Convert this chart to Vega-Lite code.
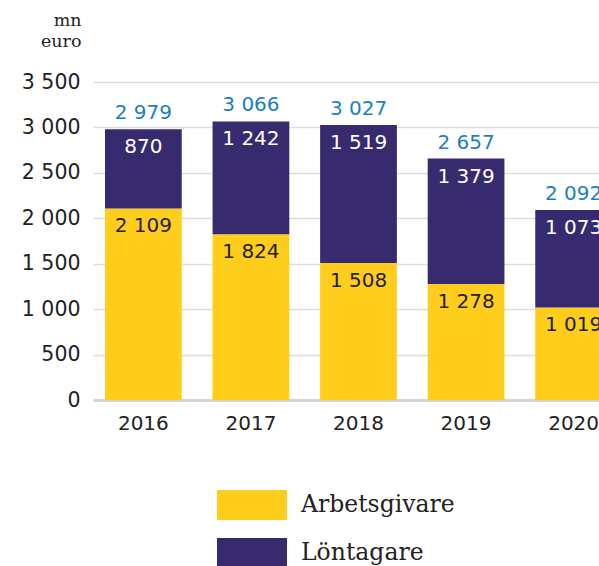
{
  "$schema": "https://vega.github.io/schema/vega-lite/v6.json",
  "width": 506,
  "height": 318,
  "autosize": {"type": "none"},
  "padding": {"left": 93, "top": 82, "right": 0, "bottom": 166},
  "config": {
    "locale": {"number": {"decimal": ",", "thousands": " ", "grouping": [3], "currency": ["", " €"]}},
    "view": {"stroke": null},
    "font": "DejaVu Sans"
  },
  "data": {
    "values": [
      {"year": "2016", "type": "Arbetsgivare", "value": 2109},
      {"year": "2016", "type": "Löntagare", "value": 870},
      {"year": "2017", "type": "Arbetsgivare", "value": 1824},
      {"year": "2017", "type": "Löntagare", "value": 1242},
      {"year": "2018", "type": "Arbetsgivare", "value": 1508},
      {"year": "2018", "type": "Löntagare", "value": 1519},
      {"year": "2019", "type": "Arbetsgivare", "value": 1278},
      {"year": "2019", "type": "Löntagare", "value": 1379},
      {"year": "2020", "type": "Arbetsgivare", "value": 1019},
      {"year": "2020", "type": "Löntagare", "value": 1073}
    ]
  },
  "encoding": {
    "x": {
      "field": "year",
      "type": "ordinal",
      "scale": {"range": [0, 531], "paddingInner": 0.2865, "paddingOuter": 0.1116},
      "axis": {
        "title": null,
        "labelAngle": 0,
        "ticks": false,
        "domain": true,
        "domainColor": "#d4d4d4",
        "domainWidth": 3,
        "labelPadding": 13,
        "labelFontSize": 20,
        "labelColor": "#222222",
        "grid": false
      }
    }
  },
  "layer": [
    {
      "mark": {"type": "bar"},
      "encoding": {
        "y": {
          "field": "value",
          "type": "quantitative",
          "stack": "zero",
          "scale": {"domain": [0, 3500], "nice": false},
          "axis": {
            "values": [0, 500, 1000, 1500, 2000, 2500, 3000, 3500],
            "format": ",d",
            "grid": true,
            "gridColor": "#dddddd",
            "gridWidth": 1.5,
            "domain": false,
            "ticks": false,
            "labelPadding": 13,
            "labelFontSize": 20.5,
            "labelColor": "#222222",
            "title": ["mn", "euro"],
            "titleAngle": 0,
            "titleAlign": "right",
            "titleBaseline": "alphabetic",
            "titleX": -12,
            "titleY": -57,
            "titleFont": "DejaVu Serif",
            "titleFontSize": 17.5,
            "titleFontWeight": "normal",
            "titleLineHeight": 21,
            "titleColor": "#222222"
          }
        },
        "order": {"field": "type", "type": "ordinal", "sort": "ascending"},
        "color": {
          "field": "type",
          "type": "nominal",
          "scale": {"domain": ["Arbetsgivare", "Löntagare"], "range": ["#ffcd1c", "#382a6f"]},
          "legend": {
            "title": null,
            "orient": "none",
            "direction": "vertical",
            "legendX": 144,
            "legendY": 408,
            "padding": 0,
            "symbolType": "M-2.333,-1H2.333V1H-2.333Z",
            "symbolSize": 900,
            "symbolStrokeWidth": 0,
            "symbolOpacity": 1,
            "labelOffset": 34,
            "rowPadding": 18,
            "labelFont": "DejaVu Serif",
            "labelFontSize": 23.5,
            "labelColor": "#222222"
          }
        }
      }
    },
    {
      "mark": {"type": "text", "baseline": "middle", "dy": 18, "fontSize": 20},
      "encoding": {
        "y": {"field": "value", "type": "quantitative", "stack": "zero"},
        "detail": {"field": "type"},
        "order": {"field": "type", "type": "ordinal", "sort": "ascending"},
        "text": {"field": "value", "type": "quantitative", "format": ",d"},
        "color": {"condition": {"test": "datum.type === 'Löntagare'", "value": "#ffffff"}, "value": "#222222"}
      }
    },
    {
      "transform": [{"aggregate": [{"op": "sum", "field": "value", "as": "total"}], "groupby": ["year"]}],
      "mark": {"type": "text", "baseline": "middle", "dy": -16, "fontSize": 20, "color": "#1a7fc2"},
      "encoding": {
        "y": {"field": "total", "type": "quantitative"},
        "text": {"field": "total", "type": "quantitative", "format": ",d"}
      }
    }
  ]
}
